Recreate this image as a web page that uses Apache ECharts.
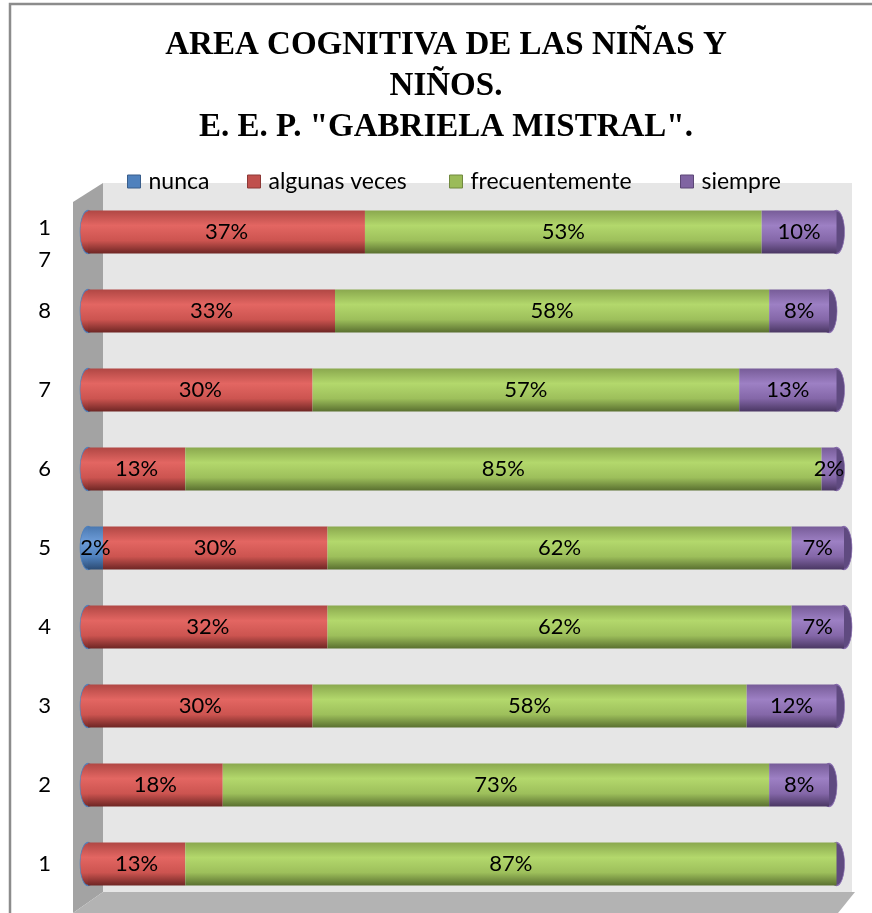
<!DOCTYPE html>
<html>
<head>
<meta charset="utf-8">
<script src="https://cdn.jsdelivr.net/npm/echarts@6/dist/echarts.min.js"></script>
<style>
  html, body { margin: 0; padding: 0; background: #fff; }
  #chart { width: 872px; height: 913px; }
</style>
</head>
<body>
<div id="chart"></div>
<script>
// categorias, de abajo hacia arriba
const categories = ['1', '2', '3', '4', '5', '6', '7', '8', '17'];
const nunca = [0, 0, 0, 0, 2, 0, 0, 0, 0];
const algunasVeces = [13, 18, 30, 32, 30, 13, 30, 33, 37];
const frecuentemente = [87, 73, 58, 62, 62, 85, 57, 58, 53];
const siempre = [0, 8, 12, 7, 7, 2, 13, 8, 10];

const seriesNames = ['nunca', 'algunas veces', 'frecuentemente', 'siempre'];
const seriesData = [nunca, algunasVeces, frecuentemente, siempre];

const flat = ['#4f81bd', '#c0504d', '#9bbb59', '#8064a2'];
const borders = ['#385d8a', '#8c3836', '#71893f', '#5c4776'];
const stops = [
    ['#4a78b0', '#6d9cd8', '#4f81bd', '#2c4b73'],
    ['#b04744', '#e36662', '#cc5450', '#6e2624'],
    ['#8aa84e', '#b3d86c', '#9dbf5b', '#5a7030'],
    ['#775c98', '#9d80c4', '#8467a8', '#4a3763']
];
const grad = (i) => new echarts.graphic.LinearGradient(0, 0, 0, 1, [
    { offset: 0, color: stops[i][0] },
    { offset: 0.35, color: stops[i][1] },
    { offset: 0.7, color: stops[i][2] },
    { offset: 1, color: stops[i][3] }
]);

// tapas del cilindro: total de la fila y primer segmento con valor
const capData = categories.map((c, i) => {
    let total = 0, first = 0;
    seriesData.forEach((arr) => { total += arr[i]; });
    for (let s = 0; s < seriesData.length; s++) {
        if (seriesData[s][i] > 0) { first = s; break; }
    }
    return [total, i, first];
});

const chart = echarts.init(document.getElementById('chart'));

const legendLeft = [122, 242, 444, 675];
const FONT = 'Lato';

const option = {
    backgroundColor: '#fff',
    animation: false,
    title: {
        text: 'AREA COGNITIVA DE LAS NIÑAS Y\nNIÑOS.\nE. E. P. "GABRIELA MISTRAL".',
        left: 446,
        top: 25,
        padding: 0,
        textAlign: 'center',
        textStyle: {
            fontFamily: 'Liberation Serif',
            fontWeight: 'bold',
            fontSize: 33,
            lineHeight: 41,
            color: '#000'
        }
    },
    legend: seriesNames.map((n, i) => ({
        data: [{ name: n, itemStyle: { color: flat[i], borderColor: borders[i], borderWidth: 1 } }],
        left: legendLeft[i],
        top: 165,
        icon: 'rect',
        itemWidth: 13,
        itemHeight: 13,
        selectedMode: false,
        textStyle: { fontFamily: FONT, fontSize: 23, color: '#000', padding: [0, 0, 0, 3] }
    })),
    graphic: [
        // marco
        { type: 'rect', z: 0, shape: { x: 10, y: 4, width: 900, height: 950 },
          style: { fill: 'none', stroke: '#8c8c8c', lineWidth: 2.5 } },
        // pared del fondo
        { type: 'rect', z: 0, shape: { x: 103, y: 183, width: 749, height: 709 },
          style: { fill: '#e6e6e6' } },
        // pared lateral
        { type: 'polygon', z: 0, shape: { points: [[73, 202], [103, 183], [103, 892], [73, 913]] },
          style: { fill: '#a3a3a3' } },
        // piso
        { type: 'polygon', z: 0, shape: { points: [[103, 892], [855, 892], [838, 913], [73, 913]] },
          style: { fill: '#b3b3b3' } }
    ],
    grid: { left: 88, width: 756, top: 192.5, height: 711 },
    xAxis: {
        type: 'value', min: 0, max: 101, show: false
    },
    yAxis: {
        type: 'category',
        data: categories,
        axisLine: { show: false },
        axisTick: { show: false },
        splitLine: { show: false },
        axisLabel: {
            margin: 37,
            color: '#000',
            fontFamily: FONT,
            fontSize: 22,
            formatter: v => v.length > 1 ? '{w|' + v.split('').join('\n') + '}' : v,
            rich: { w: { fontFamily: FONT, fontSize: 22, color: '#000', lineHeight: 32, padding: [24, 0, 0, 0] } }
        }
    },
    series: seriesNames.map((n, i) => ({
        name: n,
        type: 'bar',
        stack: 'total',
        barWidth: 43,
        z: 2,
        data: seriesData[i],
        itemStyle: { color: grad(i) },
        label: {
            show: true,
            position: 'inside',
            color: '#000',
            fontFamily: FONT,
            fontSize: 22,
            formatter: p => p.value ? p.value + '%' : ''
        }
    })).concat([{
        type: 'custom',
        z: 2,
        silent: true,
        data: capData,
        encode: { x: 0, y: 1 },
        renderItem: (params, api) => {
            const end = api.coord([api.value(0), api.value(1)]);
            const start = api.coord([0, api.value(1)]);
            const ry = 21.5, rx = 8;
            const first = api.value(2);
            return {
                type: 'group',
                children: [
                    { type: 'circle', x: start[0], y: start[1], scaleX: rx / ry,
                      shape: { cx: 0, cy: 0, r: ry },
                      style: { fill: grad(first), stroke: '#4f81bd', lineWidth: 1.5 } },
                    { type: 'circle', x: end[0], y: end[1], scaleX: rx / ry,
                      shape: { cx: 0, cy: 0, r: ry },
                      style: { fill: '#5f4a80', stroke: '#8a6fb0', lineWidth: 1.5 } }
                ]
            };
        }
    }])
};

chart.setOption(option);
</script>
</body>
</html>
